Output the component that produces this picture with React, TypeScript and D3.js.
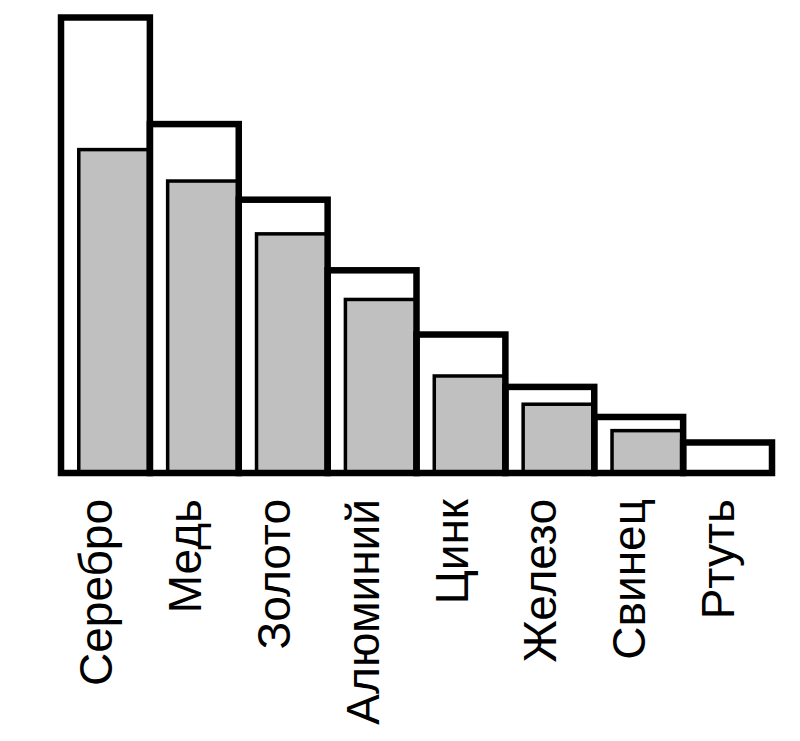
import React from "react";
import * as d3 from "d3";

const categories = ["Серебро", "Медь", "Золото", "Алюминий", "Цинк", "Железо", "Свинец", "Ртуть"];
const outerValues = [100, 76.6, 60.0, 44.5, 30.4, 18.9, 12.3, 6.7];
const innerValues = [71.0, 64.1, 52.5, 38.1, 21.3, 15.1, 9.3, 0];

export default function App() {
  const width = 800;
  const height = 741;
  const x = d3.scaleBand<string>().domain(categories).range([61, 772]).padding(0);
  const y = d3.scaleLinear().domain([0, 100]).range([473, 17.5]);
  const bw = x.bandwidth();
  const base = y(0);

  return (
    <svg
      width={width}
      height={height}
      style={{ position: "absolute", left: 0, top: 0, background: "#fff" }}
    >
      {/* outer white fills */}
      {categories.map((c, i) => (
        <rect key={"of" + c} x={x(c)!} y={y(outerValues[i])} width={bw} height={base - y(outerValues[i])} fill="#fff" />
      ))}
      {/* inner gray bars */}
      {categories.map((c, i) =>
        innerValues[i] > 0 ? (
          <rect
            key={"in" + c}
            x={x(c)! + bw * 0.2}
            y={y(innerValues[i])}
            width={bw * 0.8}
            height={base - y(innerValues[i])}
            fill="#c0c0c0"
            stroke="#000"
            strokeWidth={3.5}
          />
        ) : null
      )}
      {/* outer strokes */}
      {categories.map((c, i) => (
        <rect
          key={"os" + c}
          x={x(c)!}
          y={y(outerValues[i])}
          width={bw}
          height={base - y(outerValues[i])}
          fill="none"
          stroke="#000"
          strokeWidth={6.5}
        />
      ))}
      {/* labels */}
      {categories.map((c) => (
        <text
          key={"t" + c}
          transform={`translate(${x(c)! + 51},499) rotate(-90)`}
          textAnchor="end"
          fontFamily="'Liberation Sans', Arial, sans-serif"
          fontSize={46}
          fill="#000"
        >
          {c}
        </text>
      ))}
    </svg>
  );
}
